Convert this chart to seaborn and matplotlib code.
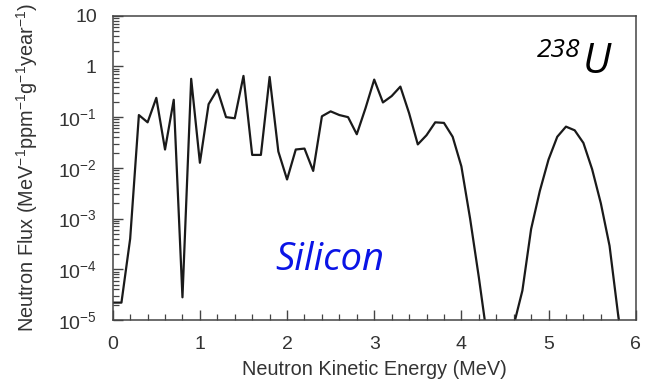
import numpy as np
import pandas as pd
import matplotlib
matplotlib.use("Agg")
import matplotlib.pyplot as plt
from matplotlib.ticker import FixedLocator, LogLocator, NullFormatter, FixedFormatter
import seaborn as sns

# Neutron spectrum from 238U (alpha,n) reactions in silicon, 0.1 MeV bins
energy_mev = [round(0.1 * i, 1) for i in range(60)]
flux = [
    2.2e-5, 2.2e-5, 4.0e-4, 0.11, 0.079, 0.24, 0.023, 0.22, 2.8e-5, 0.57,
    0.0126, 0.18, 0.35, 0.10, 0.095, 0.65, 0.018, 0.018, 0.62, 0.021,
    0.0059, 0.023, 0.024, 0.0087, 0.104, 0.13, 0.11, 0.10, 0.046, 0.15,
    0.55, 0.195, 0.26, 0.40, 0.12, 0.029, 0.044, 0.079, 0.077, 0.041,
    0.0107, 1.0e-3, 7.0e-5, 4.0e-6, 1.0e-7, 1.0e-7, 7.8e-6, 3.8e-5, 6.2e-4, 3.5e-3,
    0.0146, 0.041, 0.065, 0.055, 0.031, 0.0094, 2.0e-3, 2.9e-4, 1.2e-5, 1.0e-6,
]

x_ticks = [0, 1, 2, 3, 4, 5, 6]
y_ticks = [1e-5, 1e-4, 1e-3, 1e-2, 1e-1, 1, 10]
y_tick_labels = [r"10$^{-5}$", r"10$^{-4}$", r"10$^{-3}$", r"10$^{-2}$",
                 r"10$^{-1}$", "1", "10"]

df = pd.DataFrame({"energy": energy_mev, "flux": flux})

sns.set_style("ticks")
plt.rcParams["font.family"] = ["Liberation Sans", "DejaVu Sans"]
plt.rcParams["mathtext.fontset"] = "custom"
plt.rcParams["mathtext.rm"] = "Liberation Sans"
plt.rcParams["mathtext.it"] = "Liberation Sans:italic"

fig = plt.figure(figsize=(6.52, 3.89), dpi=100)
ax = fig.add_axes([0.1729, 0.1774, 0.8021, 0.7822])

sns.lineplot(data=df, x="energy", y="flux", ax=ax, color="#1a1a1a",
             linewidth=1.6, estimator=None, sort=False)

ax.set_yscale("log")
ax.set_xlim(0, 6)
ax.set_ylim(1e-5, 10)

text_color = "#333333"
spine_color = "#444444"

ax.xaxis.set_major_locator(FixedLocator(x_ticks))
ax.xaxis.set_minor_locator(FixedLocator(np.arange(0, 6.01, 0.2)))
ax.yaxis.set_major_locator(FixedLocator(y_ticks))
ax.yaxis.set_major_formatter(FixedFormatter(y_tick_labels))
ax.yaxis.set_minor_locator(LogLocator(base=10, subs=np.arange(2, 10), numticks=20))
ax.yaxis.set_minor_formatter(NullFormatter())

ax.tick_params(axis="both", which="both", direction="in", colors=spine_color,
               labelcolor=text_color, labelsize=14, top=False, right=False)
ax.tick_params(axis="both", which="major", length=7, width=1, pad=11.5)
ax.tick_params(axis="both", which="minor", length=4.3, width=0.9)

for s in ax.spines.values():
    s.set_color(spine_color)
    s.set_linewidth(1.1)
    s.set_visible(True)

ax.set_xlabel("Neutron Kinetic Energy (MeV)", fontsize=14.3, color=text_color, labelpad=5)
ax.set_ylabel(r"Neutron Flux (MeV$^{-1}$ppm$^{-1}$g$^{-1}$year$^{-1}$)",
              fontsize=14.3, color=text_color, labelpad=13)

ax.text(0.310, 0.164, "Silicon", transform=ax.transAxes, color="#0a14e6",
        fontsize=27.5, style="italic", family=["Open Sans", "DejaVu Sans"],
        ha="left", va="baseline")
ax.text(0.811, 0.864, "238", transform=ax.transAxes, color="black",
        fontsize=19, style="italic", family=["Open Sans", "DejaVu Sans"],
        ha="left", va="baseline")
ax.text(0.8977, 0.812, "U", transform=ax.transAxes, color="black",
        fontsize=30, style="italic", family=["Open Sans", "DejaVu Sans"],
        ha="left", va="baseline")

fig.savefig("out.png", dpi=100)
